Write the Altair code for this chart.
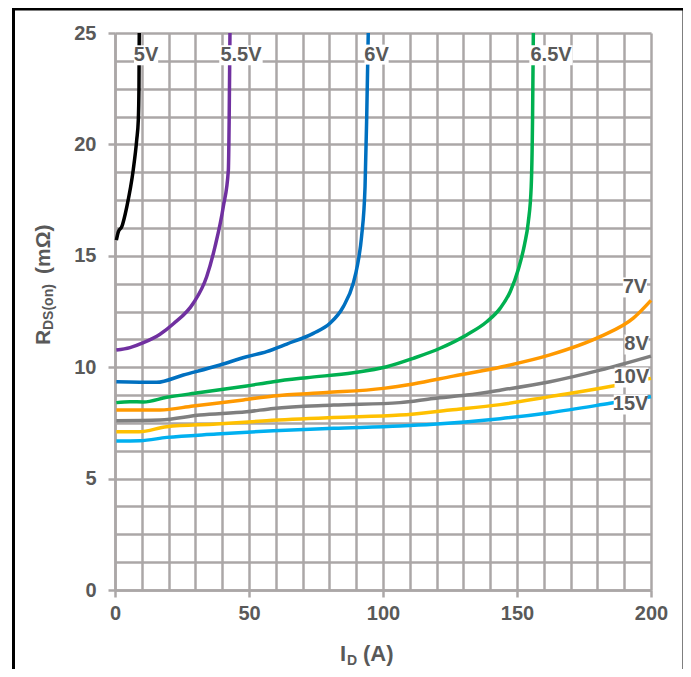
import altair as alt
import pandas as pd

# ---------------- data ----------------
series_names = ["5V", "5.5V", "6V", "6.5V", "7V", "8V", "10V", "15V"]
series_colors = ["#000000", "#7030A0", "#0070C0", "#00B050",
                 "#FF9900", "#7F7F7F", "#FFC000", "#00B0F0"]

id_5v = [0.5, 1.3, 2.5, 4.4, 6.8, 8.1, 8.7, 8.95, 9.05]
rds_5v = [15.7, 16.1, 16.3, 17.2, 18.85, 20.2, 21.1, 22.6, 25.0]

id_55v = [0.5, 5.6, 10.6, 16.8, 21.8, 29.2, 34.2, 37.3, 40.4, 42.3, 42.6, 42.9]
rds_55v = [10.77, 10.88, 11.1, 11.48, 11.95, 12.87, 14.06, 15.4, 17.2, 18.85, 21.1, 25.0]

id_6v = [0.5, 15.5, 25.5, 39.2, 49.1, 56.6, 64.1, 74.0, 80.2, 85.2, 88.9,
         90.5, 92.0, 93.3, 93.9, 94.5]
rds_6v = [9.35, 9.32, 9.65, 10.1, 10.47, 10.7, 11.04, 11.52, 11.97, 12.72, 13.77,
          14.6, 15.86, 18.1, 21.1, 25.0]

id_65v = [0.5, 5.6, 10.6, 19.3, 31.7, 49.1, 59.1, 71.5, 88.9, 101.4, 111.3, 121.3,
          131.2, 138.7, 143.7, 147.5, 150.5, 152.8, 154.2, 155.3, 155.8, 156.1]
rds_65v = [8.41, 8.45, 8.44, 8.65, 8.86, 9.16, 9.35, 9.53, 9.75, 10.02, 10.4, 10.85,
           11.45, 12.04, 12.64, 13.4, 14.4, 15.5, 16.5, 18.1, 21.1, 25.0]

id_7v = [0.5, 16.8, 29.2, 47.9, 59.1, 79.0, 100.1, 111.3, 126.2, 143.7, 162.3, 181.0, 193.4, 200.0]
rds_7v = [8.08, 8.08, 8.26, 8.53, 8.71, 8.86, 9.05, 9.25, 9.6, 10.0, 10.55, 11.37, 12.2, 13.0]

id_8v = [0.5, 16.8, 31.7, 49.1, 59.1, 81.5, 106.3, 118.8, 131.2, 143.7, 162.3, 181.0, 200.0]
rds_8v = [7.6, 7.63, 7.85, 8.0, 8.15, 8.3, 8.41, 8.6, 8.75, 8.97, 9.35, 9.87, 10.5]

id_10v = [0.5, 9.0, 19.3, 37.9, 56.6, 81.5, 106.3, 125.0, 143.7, 162.3, 184.7, 200.0]
rds_10v = [7.1, 7.1, 7.33, 7.45, 7.6, 7.74, 7.85, 8.08, 8.32, 8.68, 9.13, 9.5]

id_15v = [0.5, 9.3, 19.3, 37.9, 59.1, 81.5, 106.3, 118.8, 143.7, 162.3, 184.7, 200.0]
rds_15v = [6.69, 6.7, 6.85, 7.0, 7.15, 7.26, 7.36, 7.44, 7.69, 7.96, 8.38, 8.68]

label_text = ["5V", "5.5V", "6V", "6.5V", "7V", "8V", "10V", "15V"]
label_id = [11.6, 47.0, 97.6, 162.7, 194.0, 194.6, 192.7, 192.4]
label_rds = [24.0, 24.0, 24.03, 24.0, 13.58, 11.02, 9.54, 8.33]

x_ticks = [0, 50, 100, 150, 200]
y_ticks = [0, 5, 10, 15, 20, 25]
x_grid = list(range(0, 201, 10))
y_grid = [i * 1.25 for i in range(21)]

# ---------------- build tables ----------------
ids = [id_5v, id_55v, id_6v, id_65v, id_7v, id_8v, id_10v, id_15v]
rdss = [rds_5v, rds_55v, rds_6v, rds_65v, rds_7v, rds_8v, rds_10v, rds_15v]
rows = []
for name, xi, yi in zip(series_names, ids, rdss):
    for a, b in zip(xi, yi):
        rows.append({"series": name, "id": a, "rds": b})
curves = pd.DataFrame(rows)

W, H = 536, 557
PX_X = W / 200.0
PX_Y = H / 25.0
FONT = "Liberation Sans, Arial, sans-serif"
TXT = "#595959"
GRID = "#ABA7A7"

lab = pd.DataFrame({"text": label_text, "id": label_id, "rds": label_rds})
lab["w"] = lab["text"].str.len() * 9.6 + 5
lab["x1"] = lab["id"] - lab["w"] / 2 / PX_X
lab["x2"] = lab["id"] + lab["w"] / 2 / PX_X
lab["y1"] = lab["rds"] - 10 / PX_Y
lab["y2"] = lab["rds"] + 10 / PX_Y

xs = alt.Scale(domain=[0, 200], nice=False, zero=False)
ys = alt.Scale(domain=[0, 25], nice=False, zero=False)

common_axis = dict(
    grid=True, gridColor=GRID, gridWidth=2.5,
    tickColor=GRID, tickWidth=2.5, tickSize=7,
    domainColor=GRID, domainWidth=2.5,
    labelFont=FONT, labelFontSize=20, labelFontWeight="bold", labelColor=TXT,
    labelOverlap=False, labelFlush=False, title=None,
)
x_axis = alt.Axis(
    values=x_grid,
    labelExpr="datum.value % 50 == 0 ? datum.label : ''",
    tickOpacity={"condition": {"test": "datum.value % 50 != 0", "value": 0}, "value": 1},
    labelPadding=6,
    **common_axis,
)
y_axis = alt.Axis(
    values=y_grid,
    labelExpr="datum.value % 5 == 0 ? datum.label : ''",
    tickOpacity={"condition": {"test": "datum.value % 5 != 0", "value": 0}, "value": 1},
    labelPadding=12,
    **common_axis,
)

lines = alt.Chart(curves).mark_line(strokeWidth=3.5, interpolate="monotone", strokeCap="butt").encode(
    x=alt.X("id:Q", scale=xs, axis=x_axis),
    y=alt.Y("rds:Q", scale=ys, axis=y_axis),
    color=alt.Color("series:N", scale=alt.Scale(domain=series_names, range=series_colors), legend=None),
    detail="series:N",
)

boxes = alt.Chart(lab).mark_rect(fill="white").encode(
    x=alt.X("x1:Q", scale=xs, axis=x_axis), x2="x2:Q",
    y=alt.Y("y1:Q", scale=ys, axis=y_axis), y2="y2:Q",
)

texts = alt.Chart(lab).mark_text(
    font=FONT, fontSize=20, fontWeight="bold", color=TXT, baseline="middle", align="center"
).encode(
    x=alt.X("id:Q", scale=xs, axis=x_axis), y=alt.Y("rds:Q", scale=ys, axis=y_axis), text="text:N"
)

one = pd.DataFrame({"k": [0]})

def t(txt, x, y, size, angle=0, align="left"):
    kw = dict(font=FONT, fontSize=size, fontWeight="bold", color=TXT,
              align=align, baseline="alphabetic", text=txt)
    if angle:
        kw["angle"] = angle
    return alt.Chart(one).mark_text(**kw).encode(x=alt.value(x), y=alt.value(y))

titles = [
    t("I", 225, 628, 22),
    t("D", 232, 632, 14),
    t("(A)", 248, 628, 22),
    t("R", -65, 312, 21, angle=270),
    t("DS(on)", -62, 297, 14, angle=270),
    t("(mΩ)", -65, 241, 21, angle=270),
]

frame = alt.Chart(one).mark_rect(fillOpacity=0, stroke="black", strokeWidth=3).encode(
    x=alt.value(-101.5), x2=alt.value(569), y=alt.value(-24), y2=alt.value(660)
)

chart = alt.layer(lines, boxes, texts, frame, *titles).properties(
    width=W, height=H,
    autosize=alt.AutoSizeParams(type="none"),
    padding={"left": 107, "top": 25, "right": 32, "bottom": 79},
    background="white",
).configure_view(strokeWidth=0)

chart.save("out.html", embed_options={"renderer": "svg", "actions": False})
